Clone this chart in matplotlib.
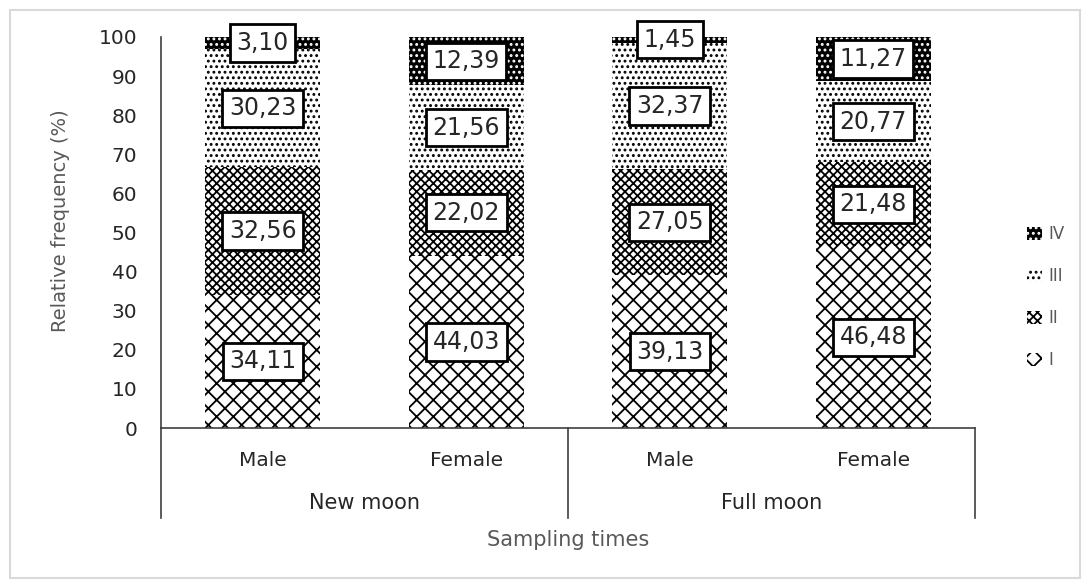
import matplotlib
matplotlib.use("Agg")
import matplotlib.pyplot as plt
from matplotlib.patches import Patch, Rectangle
from matplotlib.lines import Line2D
import matplotlib.transforms as mtransforms

# ---- data ----
categories = ["Male", "Female", "Male", "Female"]
groups = ["New moon", "Full moon"]
stage_names = ["I", "II", "III", "IV"]
stage_I = [34.11, 44.03, 39.13, 46.48]
stage_II = [32.56, 22.02, 27.05, 21.48]
stage_III = [30.23, 21.56, 32.37, 20.77]
stage_IV = [3.10, 12.39, 1.45, 11.27]
yticks = [0, 10, 20, 30, 40, 50, 60, 70, 80, 90, 100]

plt.rcParams['font.family'] = ['DejaVu Sans']
plt.rcParams['hatch.linewidth'] = 1.3

fig = plt.figure(figsize=(10.86, 5.8), dpi=100)
ax = fig.add_axes([161/1086, 152/580, 814/1086, 391/580])

series = [stage_I, stage_II, stage_III, stage_IV]
styles = [
    dict(facecolor="white", edgecolor="black", hatch="xx"),
    dict(facecolor="white", edgecolor="black", hatch="xxxx"),
    dict(facecolor="white", edgecolor="black", hatch="..."),
    dict(facecolor="black", edgecolor="white", hatch="..."),
]
x = list(range(len(categories)))
width = 0.565
bottom = [0.0] * len(categories)
handles = []
for vals, st, name in zip(series, styles, stage_names):
    bars = ax.bar(x, vals, width, bottom=bottom, linewidth=0, **st)
    for xi, v, b in zip(x, vals, bottom):
        ax.text(xi, b + v / 2, f"{v:.2f}".replace(".", ","), ha="center", va="center",
                fontsize=17, color="#262626",
                bbox=dict(boxstyle="square,pad=0.28", facecolor="white",
                          edgecolor="black", linewidth=2))
    bottom = [b + v for b, v in zip(bottom, vals)]
    handles.append(Patch(linewidth=0, label=name, **st))

ax.set_xlim(-0.5, len(categories) - 0.5)
ax.set_ylim(0, 100)
ax.set_yticks(yticks)
ax.tick_params(axis="y", length=0, pad=17, labelsize=14.5, labelcolor="#262626")
ax.set_xticks([])
for s in ["top", "right"]:
    ax.spines[s].set_visible(False)
ax.spines["left"].set_color("#404040")
ax.spines["bottom"].set_color("#404040")
ax.spines["left"].set_linewidth(1.2)
ax.spines["bottom"].set_linewidth(1.2)

ax.set_ylabel("Relative frequency (%)", fontsize=14, color="#595959")
ax.yaxis.set_label_coords(-0.112, 0.53)

trans = mtransforms.blended_transform_factory(ax.transData, ax.transAxes)
for xi, c in zip(x, categories):
    ax.text(xi, -0.082, c, transform=trans, ha="center", va="center",
            fontsize=14.5, color="#262626")
n_per = len(categories) // len(groups)
for gi, g in enumerate(groups):
    center = gi * n_per + (n_per - 1) / 2
    ax.text(center, -0.192, g, transform=trans, ha="center", va="center",
            fontsize=15, color="#262626")
for gi in range(len(groups) + 1):
    xs = gi * n_per - 0.5
    ax.add_line(Line2D([xs, xs], [0, -0.23], transform=trans, color="#404040",
                       linewidth=1.2, clip_on=False))

ax.text(0.5, -0.286, "Sampling times", transform=ax.transAxes, ha="center",
        va="center", fontsize=15, color="#595959")

leg = fig.legend(handles=handles[::-1], loc="upper left",
                 bbox_to_anchor=(1012/1086, 1 - 210/580), frameon=False,
                 fontsize=12, labelcolor="#595959", handlelength=0.9,
                 handleheight=0.8, labelspacing=1.45, handletextpad=0.4)

fig.add_artist(Rectangle((10/1086, 2/580), 1070/1086, 568/580, transform=fig.transFigure,
                         fill=False, edgecolor="#d9d9d9", linewidth=1.5))

fig.savefig("out.png", dpi=100)
